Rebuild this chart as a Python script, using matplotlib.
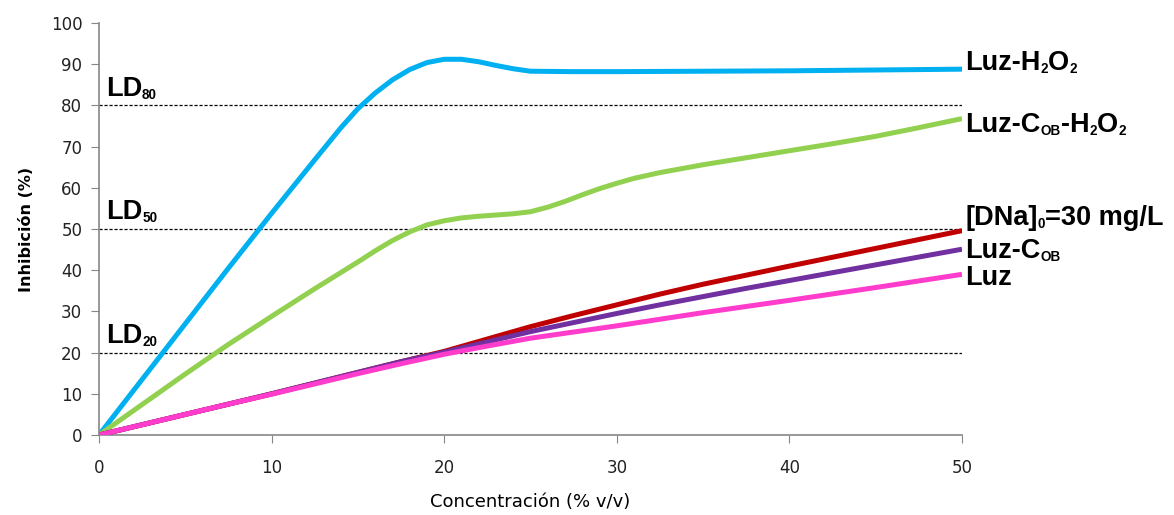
import matplotlib
matplotlib.use('Agg')
import matplotlib.pyplot as plt

# Values
x_h2o2 = [0, 2.5, 5, 7.5, 10, 12.5, 14, 15, 16, 17, 18, 19, 20, 21, 22, 23, 24, 25, 27.5, 30, 35, 40, 45, 50]
luz_h2o2 = [0, 13.5, 27, 40.5, 53.8, 66.8, 74.5, 79.2, 83, 86.2, 88.7, 90.4, 91.2, 91.2, 90.6, 89.7, 88.9, 88.3, 88.2, 88.2, 88.3, 88.4, 88.6, 88.8]

x_cob_h2o2 = [0, 2.5, 5, 7.5, 10, 12.5, 15, 16, 17, 18, 19, 20, 21, 22, 23, 24, 25, 26, 27, 28, 29, 30, 31, 32.5, 35, 37.5, 40, 42.5, 45, 47.5, 50]
luz_cob_h2o2 = [0, 7.4, 14.8, 22, 28.8, 35.5, 42, 44.7, 47.2, 49.3, 51, 52, 52.7, 53.1, 53.4, 53.7, 54.2, 55.3, 56.7, 58.3, 59.8, 61.1, 62.3, 63.7, 65.6, 67.3, 69, 70.7, 72.5, 74.6, 76.8]

conc = [0, 2.5, 5, 7.5, 10, 12.5, 15, 17.5, 20, 22.5, 25, 27.5, 30, 32.5, 35, 37.5, 40, 45, 50]
dna0 = [0, 2.5, 5, 7.5, 10, 12.6, 15.2, 17.8, 20.3, 23.3, 26.3, 29, 31.6, 34.2, 36.6, 38.8, 41, 45.3, 49.6]
luz_cob = [0, 2.5, 5, 7.5, 10, 12.6, 15.2, 17.8, 20.1, 22.6, 25.1, 27.3, 29.5, 31.6, 33.6, 35.6, 37.5, 41.3, 45.1]
luz = [0, 2.5, 5, 7.5, 9.9, 12.4, 14.9, 17.3, 19.6, 21.6, 23.5, 25, 26.5, 28.1, 29.7, 31.2, 32.7, 35.8, 39.0]

ld_levels = [20, 50, 80]
ld_names = ['20', '50', '80']

# label pieces: (text, is_subscript)
lab_h2o2 = [('Luz-H', False), ('2', True), ('O', False), ('2', True)]
lab_cob_h2o2 = [('Luz-C', False), ('OB', True), ('-H', False), ('2', True), ('O', False), ('2', True)]
lab_dna = [('[DNa]', False), ('0', True), ('=30 mg/L', False)]
lab_cob = [('Luz-C', False), ('OB', True)]
lab_luz = [('Luz', False)]

series = [
    (x_h2o2, luz_h2o2, '#00B0F0', lab_h2o2, 88.6),
    (x_cob_h2o2, luz_cob_h2o2, '#92D050', lab_cob_h2o2, 73.6),
    (conc, dna0, '#C00000', lab_dna, 51.0),
    (conc, luz_cob, '#7030A0', lab_cob, 43.0),
    (conc, luz, '#FF3CCC', lab_luz, 36.4),
]


def rich_label(ax, x, y, pieces, size):
    first = ax.text(x, y, pieces[0][0], fontsize=size, family='Liberation Sans',
                    fontweight='bold', va='baseline', ha='left', clip_on=False)
    prev = first
    for txt, sub in pieces[1:]:
        prev = ax.annotate(txt, xy=(1, 0), xycoords=(prev, first), va='bottom', ha='left',
                           fontsize=size * (0.5 if sub else 1.0), family='Liberation Sans',
                           fontweight='bold', annotation_clip=False)


fig = plt.figure(figsize=(11.74, 5.15), dpi=100)
ax = fig.add_axes([0.0843, 0.1553, 0.7351, 0.8000])

for lvl, name in zip(ld_levels, ld_names):
    ax.axhline(lvl, color='black', linestyle=(0, (2.5, 1.5)), linewidth=0.9, zorder=1)
    rich_label(ax, 0.4, lvl + 2.4, [('LD', False), (name, True)], 19.5)

for xs, vals, col, lab, ylab in series:
    ax.plot(xs, vals, color=col, linewidth=3.6, solid_capstyle='butt', zorder=3)
    rich_label(ax, 50.2, ylab, lab, 19.5)

ax.set_xlim(0, 50)
ax.set_ylim(0, 100)
ax.set_xticks(range(0, 51, 10))
ax.set_yticks(range(0, 101, 10))
ax.spines['top'].set_visible(False)
ax.spines['right'].set_visible(False)
for s in ['left', 'bottom']:
    ax.spines[s].set_color('#868686')
    ax.spines[s].set_linewidth(1.2)
ax.tick_params(direction='out', length=6, color='#868686', labelsize=12,
               labelcolor='#222222')
ax.tick_params(axis='y', pad=6)
ax.tick_params(axis='x', pad=11)

ax.set_xlabel('Concentración (% v/v)', fontsize=13, labelpad=12)
ax.set_ylabel('Inhibición (%)', fontsize=11.5, fontweight='bold', labelpad=12)

fig.savefig('out.png', dpi=100)
